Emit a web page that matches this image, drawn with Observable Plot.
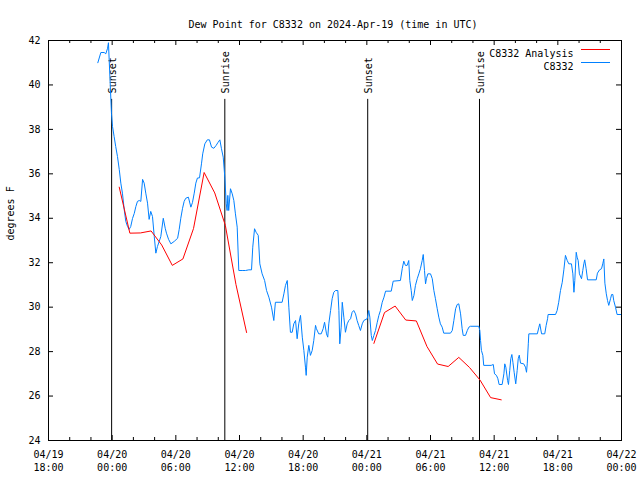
<!DOCTYPE html>
<html><head><meta charset="utf-8">
<script src="https://cdn.jsdelivr.net/npm/d3@7"></script>
<script src="https://cdn.jsdelivr.net/npm/@observablehq/plot@0.6"></script>
<style>body{margin:0;background:#fff}</style>
</head><body><div id="chart"></div>
<script>
const obsTimes = [
"04-19 22:39","04-19 22:56","04-19 23:15","04-19 23:24","04-19 23:34","04-19 23:39","04-19 23:56",
"04-20 00:02","04-20 00:11","04-20 00:20","04-20 00:30","04-20 00:40","04-20 00:49","04-20 00:58","04-20 01:08","04-20 01:17","04-20 01:27","04-20 01:36","04-20 01:45","04-20 01:55",
"04-20 02:05","04-20 02:14","04-20 02:23","04-20 02:33","04-20 02:42","04-20 02:52","04-20 03:01","04-20 03:10","04-20 03:20","04-20 03:29","04-20 03:38","04-20 03:48","04-20 03:58",
"04-20 04:07","04-20 04:16","04-20 04:26","04-20 04:35","04-20 04:49","04-20 05:00","04-20 05:07","04-20 05:19","04-20 05:32","04-20 05:51","04-20 06:10","04-20 06:19","04-20 06:28",
"04-20 06:38","04-20 06:47","04-20 06:56","04-20 07:11","04-20 07:25","04-20 07:34","04-20 07:44","04-20 07:53","04-20 08:02","04-20 08:14","04-20 08:25","04-20 08:32","04-20 08:44",
"04-20 08:58","04-20 09:10","04-20 09:22","04-20 09:35","04-20 09:48","04-20 09:59","04-20 10:09","04-20 10:18","04-20 10:28","04-20 10:37","04-20 10:45","04-20 10:50","04-20 10:54",
"04-20 10:59","04-20 11:09","04-20 11:19","04-20 11:28","04-20 11:37","04-20 11:47","04-20 11:56","04-20 12:15","04-20 12:34","04-20 12:53","04-20 13:08","04-20 13:15","04-20 13:25",
"04-20 13:34","04-20 13:46","04-20 13:55","04-20 14:08","04-20 14:22","04-20 14:33","04-20 14:46","04-20 15:01","04-20 15:14","04-20 15:23","04-20 16:01","04-20 16:11","04-20 16:20",
"04-20 16:30","04-20 16:39","04-20 16:48","04-20 16:58","04-20 17:07","04-20 17:17","04-20 17:26","04-20 17:35","04-20 17:45","04-20 17:55","04-20 18:04","04-20 18:13","04-20 18:17",
"04-20 18:23","04-20 18:32","04-20 18:41","04-20 18:51","04-20 19:00","04-20 19:10","04-20 19:15","04-20 19:28","04-20 19:42","04-20 19:53","04-20 20:01","04-20 20:12","04-20 20:19",
"04-20 20:25","04-20 20:35","04-20 20:44","04-20 20:53","04-20 21:03","04-20 21:16","04-20 21:22","04-20 21:27","04-20 21:35","04-20 21:41","04-20 21:50","04-20 21:59","04-20 22:09",
"04-20 22:18","04-20 22:28","04-20 22:37","04-20 22:46","04-20 22:56","04-20 23:05","04-20 23:14","04-20 23:24","04-20 23:34","04-20 23:43",
"04-21 00:02","04-21 00:11","04-21 00:17","04-21 00:25","04-21 00:31","04-21 00:40","04-21 00:49","04-21 00:59","04-21 01:08","04-21 01:17","04-21 01:27","04-21 01:37","04-21 01:46",
"04-21 02:18","04-21 02:29","04-21 03:10","04-21 03:20","04-21 03:29","04-21 03:38","04-21 03:48","04-21 03:57","04-21 04:03","04-21 04:11","04-21 04:17","04-21 04:26","04-21 04:35",
"04-21 04:45","04-21 04:54","04-21 05:03","04-21 05:13","04-21 05:19","04-21 05:26","04-21 05:32","04-21 05:37","04-21 05:45","04-21 06:00","04-21 06:10","04-21 06:19","04-21 06:28",
"04-21 06:38","04-21 06:47","04-21 06:56","04-21 07:06","04-21 07:15","04-21 07:53","04-21 08:03","04-21 08:12","04-21 08:22","04-21 08:31","04-21 08:40","04-21 08:50","04-21 08:59",
"04-21 09:05","04-21 09:18","04-21 09:28","04-21 09:37","04-21 09:46","04-21 10:33","04-21 10:39","04-21 10:43","04-21 10:48","04-21 10:56","04-21 11:01","04-21 11:43","04-21 11:55",
"04-21 12:02","04-21 12:13","04-21 12:21","04-21 12:28","04-21 12:45","04-21 12:55","04-21 13:00","04-21 13:06","04-21 13:16","04-21 13:21","04-21 13:28","04-21 13:34","04-21 13:40",
"04-21 13:46","04-21 13:53","04-21 14:02","04-21 14:10","04-21 14:16","04-21 14:22","04-21 14:29","04-21 14:47","04-21 14:57","04-21 15:03","04-21 15:07","04-21 15:13","04-21 15:16",
"04-21 16:04","04-21 16:13","04-21 16:18","04-21 16:28","04-21 16:46","04-21 16:54","04-21 17:02","04-21 17:05","04-21 17:47","04-21 17:56","04-21 18:05","04-21 18:15","04-21 18:25",
"04-21 18:34","04-21 18:43","04-21 18:53","04-21 19:02","04-21 19:17","04-21 19:25","04-21 19:31","04-21 19:36","04-21 19:44","04-21 19:49","04-21 19:55","04-21 20:02","04-21 20:14",
"04-21 20:21","04-21 20:27","04-21 20:32","04-21 20:40","04-21 20:48","04-21 21:37","04-21 21:44","04-21 21:56","04-21 22:07","04-21 22:14","04-21 22:20","04-21 22:26","04-21 22:34",
"04-21 22:41","04-21 22:48","04-21 22:58","04-21 23:04","04-21 23:11","04-21 23:16","04-21 23:26","04-21 23:35","04-21 23:55"
];
const obsValues = [
41.0,41.46,41.46,41.40,41.65,41.9,38.73,
38.13,37.68,37.23,36.78,36.20,35.58,35.13,34.40,33.86,33.63,33.50,33.63,33.99,
34.22,34.53,34.76,34.80,34.76,35.75,35.58,35.13,34.68,33.95,34.31,34.08,33.18,
32.43,32.73,32.96,33.18,34.00,33.55,33.33,33.05,32.85,32.96,33.10,33.50,34.00,
34.45,34.76,34.90,34.95,34.50,34.71,35.13,35.58,35.81,35.82,36.45,36.90,37.35,
37.53,37.53,37.20,37.15,37.28,37.42,37.53,37.13,36.75,35.85,34.65,34.35,35.03,
34.35,35.33,35.10,34.80,34.20,33.60,31.65,31.65,31.65,31.68,31.68,32.70,33.53,
33.37,33.23,31.95,31.50,31.20,30.75,30.45,30.00,29.40,30.22,30.22,30.60,30.98,
31.20,30.00,28.87,28.87,29.25,29.40,28.58,29.25,29.63,28.65,28.05,27.30,26.93,
27.75,28.28,27.83,28.05,28.50,29.18,29.03,28.80,28.80,29.03,29.32,28.80,28.65,
29.25,29.85,30.38,30.67,30.75,30.75,29.85,28.35,29.10,30.22,29.55,28.87,29.25,
29.40,29.48,29.77,29.85,29.70,29.40,29.18,28.95,29.25,29.40,
29.48,29.85,29.55,28.73,28.50,28.73,28.95,29.32,29.63,29.85,30.22,30.45,30.72,
30.72,31.17,31.20,31.73,32.07,31.88,31.88,32.10,31.20,30.75,30.30,30.52,30.98,
31.28,31.50,31.73,32.10,32.37,31.65,31.05,31.28,31.50,31.50,31.28,30.75,30.38,
29.93,29.55,29.25,29.10,28.83,28.83,28.95,29.40,29.93,30.12,30.15,29.70,29.03,
28.73,28.73,28.95,29.10,29.14,29.14,28.95,28.50,28.05,27.83,27.38,27.38,27.42,
27.00,26.93,26.78,26.52,26.52,27.00,27.45,27.30,26.70,26.52,27.15,27.68,27.87,
27.52,27.07,26.55,27.15,27.68,27.84,27.48,27.45,27.30,27.07,27.45,28.35,28.80,
28.80,29.10,29.25,28.80,28.80,29.18,29.48,29.67,29.67,29.85,30.22,30.75,31.12,
31.68,32.33,32.10,31.95,31.95,31.50,30.67,31.20,32.47,32.25,32.10,31.50,31.28,
31.65,31.95,32.13,31.73,31.23,31.23,31.53,31.68,31.73,31.95,32.17,31.08,30.60,
30.30,30.08,30.38,30.57,30.57,30.30,30.00,29.67,29.67
];
const anaTimes = [
"04-20 00:40","04-20 01:40","04-20 02:40","04-20 03:40","04-20 04:40","04-20 05:40","04-20 06:40",
"04-20 07:40","04-20 08:40","04-20 09:40","04-20 10:40","04-20 11:40","04-20 12:40",
"04-20 18:40",
"04-21 00:40","04-21 01:40","04-21 02:40","04-21 03:40","04-21 04:40","04-21 05:40","04-21 06:40",
"04-21 07:40","04-21 08:40","04-21 09:40","04-21 10:40","04-21 11:40","04-21 12:40"
];
const anaValues = [
35.40,33.33,33.34,33.43,32.80,31.88,32.17,
33.54,36.06,35.14,33.68,31.02,28.86,
null,
28.37,29.76,30.05,29.42,29.38,28.23,27.44,
27.33,27.74,27.29,26.72,25.93,25.83
];
const eventTimes = ["04-19 23:57","04-20 10:37","04-21 00:05","04-21 10:37"];
const eventLabels = ["Sunset","Sunrise","Sunset","Sunrise"];
const yTicks = [24,26,28,30,32,34,36,38,40,42];
const seriesNames = ["C8332 Analysis","C8332"];
const seriesColors = ["#ff0000","#0080ff"];
const titleText = "Dew Point for C8332 on 2024-Apr-19 (time in UTC)";
const yLabel = "degrees F";

const parse = d3.utcParse("%Y-%m-%d %H:%M");
const t = s => parse("2024-" + s);
const obs = obsTimes.map((s,i)=>({time:t(s), value:obsValues[i]}));
const ana = anaTimes.map((s,i)=>({time:t(s), value:anaValues[i]}));
const events = eventTimes.map((s,i)=>({time:t(s), label:eventLabels[i]}));

const xStart = t("04-19 18:00"), xEnd = t("04-22 00:00");
const majorX = d3.utcHour.every(6).range(xStart, new Date(+xEnd+1));
const minorX = d3.utcHour.every(2).range(xStart, new Date(+xEnd+1)).filter(d=>d.getUTCHours()%6!==0);

const W=640,H=480,mL=48,mR=19,mT=40,mB=40;
const innerH=H-mT-mB, innerW=W-mL-mR;
const font="DejaVu Sans Mono";

const chart = Plot.plot({
  width:W, height:H, marginLeft:mL, marginRight:mR, marginTop:mT, marginBottom:mB,
  style:{fontFamily:font, fontSize:"10px", background:"#fff", color:"#000", overflow:"visible"},
  x:{type:"utc", domain:[xStart,xEnd]},
  y:{domain:[24,42]},
  marks:[
    Plot.axisX({ticks:majorX, tickSize:0, tickPadding:9, tickFormat:d3.utcFormat("%m/%d\n%H:%M"), lineHeight:1.25, label:null}),
    Plot.axisY({ticks:yTicks, tickSize:0, tickPadding:8, label:null}),
    Plot.ruleX(majorX, {insetTop:innerH-5, stroke:"#000"}),
    Plot.ruleX(majorX, {insetBottom:innerH-5, stroke:"#000"}),
    Plot.ruleX(minorX, {insetTop:innerH-3, stroke:"#000"}),
    Plot.ruleX(minorX, {insetBottom:innerH-3, stroke:"#000"}),
    Plot.ruleY(yTicks, {insetRight:innerW-5, stroke:"#000"}),
    Plot.ruleY(yTicks, {insetLeft:innerW-5, stroke:"#000"}),
    Plot.ruleX(events, {x:"time", y1:24, y2:39.35, stroke:"#000"}),
    Plot.text(events, {x:"time", y:39.62, text:"label", rotate:-90, textAnchor:"start", lineAnchor:"middle", dx:1}),
    Plot.line(obs, {x:"time", y:"value", stroke:seriesColors[1], strokeWidth:1}),
    Plot.line(ana, {x:"time", y:"value", stroke:seriesColors[0], strokeWidth:1}),
    Plot.frame({stroke:"#000"}),
    Plot.text([titleText], {frameAnchor:"top", dy:-20, dx:-2}),
    Plot.text([yLabel], {frameAnchor:"left", dx:-38, rotate:-90}),
    Plot.text([seriesNames[0]], {frameAnchor:"top-right", dx:-48, dy:9, textAnchor:"end"}),
    Plot.text([seriesNames[1]], {frameAnchor:"top-right", dx:-48, dy:22, textAnchor:"end"})
  ]
});
const svg = d3.select(chart);
seriesColors.forEach((c,i)=>{
  svg.append("line").attr("x1",W-mR-40).attr("x2",W-mR-11)
    .attr("y1",mT+9.5+13*i).attr("y2",mT+9.5+13*i).attr("stroke",c).attr("stroke-width",1);
});
document.getElementById("chart").appendChild(chart);
</script>
</body></html>
